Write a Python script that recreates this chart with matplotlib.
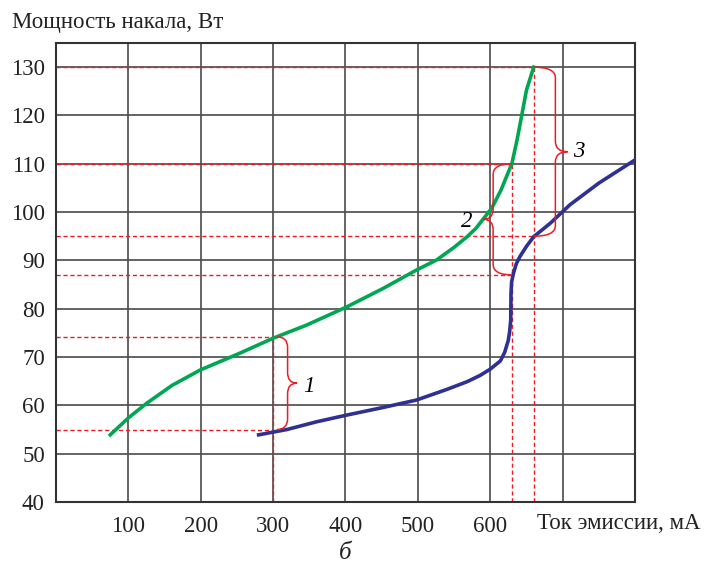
import matplotlib.pyplot as plt
from matplotlib.path import Path
from matplotlib.patches import PathPatch

plt.rcParams["font.family"] = ["Liberation Serif", "DejaVu Serif"]

# curve readings (emission current mA, heater power W)
green_x = [75, 100, 125, 160, 199, 254, 300, 346, 402, 452, 498, 526, 550, 568, 580, 591, 602, 615, 630, 637, 644, 650, 655, 660]
green_y = [53.9, 57.4, 60.4, 64.1, 67.3, 70.8, 73.9, 76.6, 80.4, 84.2, 88.0, 90.1, 92.7, 94.9, 96.6, 98.7, 100.8, 104.6, 110.1, 114.9, 120.4, 125.2, 127.6, 130.0]

blue_x = [280, 319, 360, 402, 450, 498, 540, 568, 586, 600, 614, 620, 625, 627, 628.3, 628.7, 629.5, 632, 636, 641, 650, 660, 683, 710, 750, 800]
blue_y = [53.9, 55.0, 56.6, 58.0, 59.5, 61.1, 63.3, 64.9, 66.2, 67.5, 69.2, 71.0, 73.5, 75.5, 77.7, 83.2, 85.5, 87.3, 89.3, 90.8, 92.9, 94.9, 97.7, 101.5, 106.0, 110.8]

# red dashed guides: (level, x end)
h_levels = [130, 110, 95, 87, 74.2, 54.8]
h_ends = [660, 630, 660, 630, 300, 300]
v_positions = [300, 630, 660]
v_tops = [74.2, 110, 130]

# braces: (bottom, top, x vertical, x ends, x tip, label, label x, label y)
braces = [
    (55.0, 74.2, 320, 305, 333, "1", 349, 64.0),
    (87.0, 110.0, 604, 630, 591, "2", 568, 98.0),
    (95.0, 130.0, 690, 660, 707, "3", 722, 112.5),
]

x_ticks = [100, 200, 300, 400, 500, 600]
y_ticks = [40, 50, 60, 70, 80, 90, 100, 110, 120, 130]

red = "#ed1c24"


def draw_brace(ax, y1, y2, xv, xe, xt, r=2.2):
    ym = (y1 + y2) / 2
    verts = [
        (xe, y2), (xv, y2), (xv, y2 - r),
        (xv, ym + r),
        (xv, ym), (xt, ym),
        (xv, ym), (xv, ym - r),
        (xv, y1 + r),
        (xv, y1), (xe, y1),
    ]
    codes = [
        Path.MOVETO, Path.CURVE3, Path.CURVE3,
        Path.LINETO,
        Path.CURVE3, Path.CURVE3,
        Path.CURVE3, Path.CURVE3,
        Path.LINETO,
        Path.CURVE3, Path.CURVE3,
    ]
    ax.add_patch(PathPatch(Path(verts, codes), fill=False, edgecolor=red, lw=1.1, zorder=4))


fig = plt.figure(figsize=(7.05, 5.65), dpi=100)
ax = fig.add_axes([0.0794, 0.1115, 0.8213, 0.8124])
ax.set_xlim(0, 800)
ax.set_ylim(40, 135)

for x in range(100, 800, 100):
    ax.axvline(x, color="#4a4a4a", lw=1.2, zorder=1)
for y in range(50, 135, 10):
    ax.axhline(y, color="#4a4a4a", lw=1.2, zorder=1)

for lvl, xe in zip(h_levels, h_ends):
    ax.plot([0, xe], [lvl, lvl], color=red, lw=1.0, dashes=(3, 2), zorder=2)
for xv, top in zip(v_positions, v_tops):
    ax.plot([xv, xv], [40, top], color=red, lw=1.0, dashes=(3, 2), zorder=2)

ax.plot(green_x, green_y, color="#00a651", lw=2.6, zorder=3, solid_joinstyle="round")
ax.plot(blue_x, blue_y, color="#2e3192", lw=2.6, zorder=3, solid_joinstyle="round")

for y1, y2, xv, xe, xt, lab, lx, ly in braces:
    draw_brace(ax, y1, y2, xv, xe, xt)
    ax.text(lx, ly, lab, fontsize=16.5, style="italic", ha="center", va="center", zorder=5)

ax.set_xticks(x_ticks)
ax.set_yticks(y_ticks)
ax.tick_params(length=0, labelsize=16.5, colors="#222222")
ax.tick_params(axis="x", pad=10)
ax.tick_params(axis="y", pad=8)
for s in ax.spines.values():
    s.set_color("#333333")
    s.set_linewidth(1.5)

ax.text(665, -0.046, "Ток эмиссии, мА", transform=ax.get_xaxis_transform(),
        fontsize=16.5, ha="left", va="center", color="#222222")
fig.text(0.017, 0.961, "Мощность накала, Вт", fontsize=16.5, ha="left", va="center", color="#222222")
fig.text(0.489, 0.021, "б", fontsize=18, style="italic", ha="center", va="center", color="#222222")

fig.savefig("out.png", dpi=100)
